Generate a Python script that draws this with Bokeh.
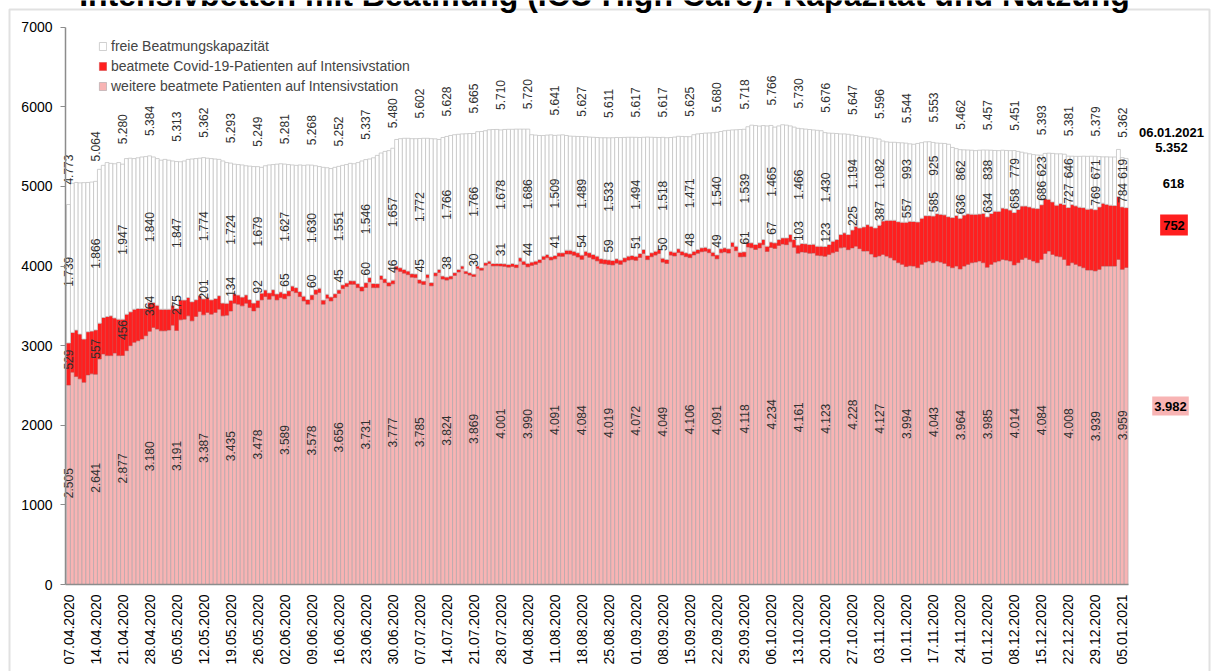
from math import pi
import numpy as np
from bokeh.plotting import figure
from bokeh.models import (ColumnDataSource, FixedTicker, Legend, LegendItem,
                          Label, Range1d, BoxAnnotation)
from bokeh.core.properties import value
from bokeh.embed import file_html
from bokeh.resources import INLINE

title_text = "Intensivbetten mit Beatmung (ICU High Care): Kapazität und Nutzung"
series_names = ["freie Beatmungskapazität",
                "beatmete Covid-19-Patienten auf Intensivstation",
                "weitere beatmete Patienten auf Intensivstation"]

tick_dates = ["07.04.2020", "14.04.2020", "21.04.2020", "28.04.2020", "05.05.2020",
              "12.05.2020", "19.05.2020", "26.05.2020", "02.06.2020", "09.06.2020",
              "16.06.2020", "23.06.2020", "30.06.2020", "07.07.2020", "14.07.2020",
              "21.07.2020", "28.07.2020", "04.08.2020", "11.08.2020", "18.08.2020",
              "25.08.2020", "01.09.2020", "08.09.2020", "15.09.2020", "22.09.2020",
              "29.09.2020", "06.10.2020", "13.10.2020", "20.10.2020", "27.10.2020",
              "03.11.2020", "10.11.2020", "17.11.2020", "24.11.2020", "01.12.2020",
              "08.12.2020", "15.12.2020", "22.12.2020", "29.12.2020", "05.01.2021"]
last_date = "06.01.2021"

# daily total ventilation capacity (top of white bars), 07.04.2020 .. 06.01.2021
total_capacity = [
    4773, 5040, 5050, 5045, 5048, 5050, 5055,
    5064, 5215, 5265, 5300, 5290, 5285, 5300,
    5280, 5350, 5355, 5350, 5360, 5370, 5375,
    5384, 5370, 5350, 5330, 5340, 5330, 5320,
    5313, 5310, 5320, 5340, 5345, 5350, 5355,
    5362, 5355, 5350, 5345, 5340, 5320, 5300,
    5293, 5280, 5275, 5270, 5260, 5255, 5250,
    5249, 5240, 5260, 5270, 5275, 5280, 5285,
    5281, 5275, 5270, 5265, 5270, 5265, 5270,
    5268, 5260, 5250, 5240, 5235, 5225, 5240,
    5252, 5265, 5275, 5290, 5285, 5300, 5320,
    5337, 5345, 5360, 5390, 5420, 5440, 5450,
    5480, 5590, 5600, 5605, 5605, 5600, 5600,
    5602, 5605, 5605, 5600, 5598, 5590, 5615,
    5628, 5640, 5650, 5655, 5660, 5662, 5665,
    5665, 5688, 5690, 5700, 5712, 5715, 5716,
    5710, 5716, 5718, 5718, 5720, 5720, 5720,
    5720, 5650, 5645, 5640, 5640, 5645, 5648,
    5641, 5645, 5648, 5640, 5632, 5630, 5628,
    5627, 5625, 5620, 5618, 5615, 5612, 5612,
    5611, 5612, 5615, 5614, 5616, 5618, 5618,
    5617, 5615, 5618, 5620, 5618, 5616, 5615,
    5617, 5612, 5615, 5620, 5630, 5628, 5626,
    5625, 5650, 5660, 5665, 5670, 5672, 5675,
    5680, 5690, 5700, 5705, 5710, 5712, 5715,
    5718, 5750, 5770, 5765, 5758, 5765, 5760,
    5766, 5745, 5760, 5775, 5770, 5760, 5745,
    5730, 5725, 5720, 5715, 5710, 5705, 5700,
    5676, 5670, 5668, 5665, 5660, 5660, 5655,
    5647, 5640, 5630, 5625, 5620, 5612, 5605,
    5596, 5570, 5560, 5555, 5555, 5550, 5548,
    5544, 5535, 5530, 5540, 5550, 5560, 5562,
    5553, 5545, 5542, 5540, 5530, 5490, 5475,
    5462, 5460, 5458, 5455, 5450, 5455, 5458,
    5457, 5455, 5452, 5450, 5455, 5452, 5450,
    5451, 5440, 5430, 5420, 5410, 5400, 5395,
    5393, 5415, 5418, 5415, 5410, 5410, 5405,
    5381, 5380, 5378, 5378, 5380, 5378, 5380,
    5379, 5375, 5372, 5372, 5370, 5370, 5465,
    5362, 5352]

# daily ventilated Covid-19 patients (red)
covid = [
    529, 500, 584, 563, 543, 542, 537,
    557, 450, 458, 492, 500, 440, 458,
    456, 459, 425, 416, 405, 384, 342,
    364, 313, 300, 271, 271, 262, 250,
    275, 250, 240, 230, 240, 210, 200,
    201, 190, 180, 175, 170, 160, 150,
    134, 120, 115, 110, 105, 100, 98,
    92, 85, 82, 80, 78, 75, 70,
    65, 65, 62, 62, 62, 60, 60,
    60, 58, 55, 52, 50, 50, 48,
    45, 47, 45, 45, 44, 50, 55,
    60, 55, 52, 50, 48, 48, 47,
    46, 46, 47, 48, 45, 44, 45,
    45, 44, 42, 40, 40, 39, 38,
    38, 36, 35, 33, 32, 31, 30,
    30, 30, 31, 32, 30, 31, 30,
    31, 33, 35, 38, 40, 42, 43,
    44, 42, 41, 40, 42, 41, 40,
    41, 43, 45, 48, 50, 52, 53,
    54, 55, 57, 58, 60, 59, 58,
    59, 57, 55, 54, 52, 51, 52,
    51, 50, 51, 52, 50, 49, 50,
    50, 51, 49, 48, 47, 48, 49,
    48, 47, 48, 49, 50, 49, 48,
    49, 50, 52, 54, 55, 57, 59,
    61, 60, 62, 63, 64, 65, 66,
    67, 70, 74, 78, 85, 92, 98,
    103, 105, 108, 110, 112, 115, 120,
    123, 125, 146, 150, 167, 180, 190,
    225, 250, 260, 304, 330, 350, 365,
    387, 420, 450, 470, 500, 515, 530,
    557, 560, 560, 575, 580, 583, 570,
    585, 595, 600, 610, 620, 630, 635,
    636, 640, 635, 610, 600, 590, 620,
    634, 640, 640, 625, 645, 645, 640,
    658, 670, 670, 650, 660, 665, 680,
    686, 690, 650, 660, 640, 670, 690,
    727, 730, 735, 740, 755, 765, 770,
    769, 785, 790, 775, 765, 760, 790,
    784, 752]

# daily other ventilated ICU patients (pink)
other = [
    2505, 2667, 2612, 2583, 2540, 2633, 2646,
    2641, 2833, 2896, 2875, 2875, 2908, 2875,
    2877, 2937, 3000, 3042, 3062, 3083, 3125,
    3180, 3229, 3208, 3187, 3187, 3196, 3258,
    3191, 3325, 3333, 3375, 3312, 3367, 3429,
    3387, 3417, 3396, 3417, 3458, 3375, 3383,
    3435, 3533, 3521, 3500, 3533, 3479, 3437,
    3478, 3575, 3617, 3583, 3625, 3575, 3604,
    3589, 3625, 3687, 3667, 3617, 3562, 3521,
    3578, 3646, 3667, 3521, 3596, 3562, 3604,
    3656, 3717, 3742, 3771, 3771, 3729, 3687,
    3731, 3800, 3729, 3729, 3833, 3792, 3750,
    3777, 3954, 3932, 3910, 3892, 3860, 3855,
    3785, 3768, 3854, 3752, 3877, 3919, 3837,
    3824, 3839, 3882, 3925, 3968, 3906, 3887,
    3869, 3970, 3948, 4010, 4032, 4002, 4003,
    4001, 3996, 3986, 3995, 3981, 4062, 4019,
    3990, 4008, 4021, 4043, 4083, 4105, 4077,
    4091, 4124, 4122, 4152, 4150, 4135, 4114,
    4084, 4132, 4110, 4088, 4065, 4033, 4027,
    4019, 4014, 4037, 4021, 4052, 4074, 4081,
    4072, 4108, 4157, 4081, 4117, 4138, 4158,
    4049, 4032, 4138, 4127, 4170, 4139, 4118,
    4106, 4140, 4160, 4180, 4187, 4168, 4127,
    4091, 4167, 4177, 4163, 4245, 4193, 4116,
    4118, 4240, 4230, 4208, 4228, 4268, 4184,
    4234, 4222, 4259, 4276, 4269, 4304, 4235,
    4161, 4178, 4172, 4161, 4163, 4135, 4130,
    4123, 4146, 4167, 4183, 4229, 4237, 4206,
    4228, 4250, 4219, 4188, 4190, 4150, 4114,
    4127, 4146, 4125, 4104, 4075, 4042, 4021,
    3994, 4003, 4000, 3979, 4021, 4050, 4063,
    4043, 4063, 4050, 4033, 4000, 3979, 4000,
    3964, 4000, 4021, 4042, 4050, 4063, 4042,
    3985, 4021, 4050, 4063, 4083, 4075, 4063,
    4014, 4042, 4083, 4104, 4083, 4063, 4042,
    4084, 4158, 4188, 4146, 4125, 4117, 4083,
    4008, 4042, 4021, 4000, 3979, 3950, 3950,
    3939, 3958, 4000, 4000, 4000, 4000, 4083,
    3959, 3982]

# ---------------------------------------------------------------------------
FONT = "Liberation Sans"
RED = "#ff1f1f"
PINK = "#f8b4b4"
W, H = 1213, 671
X0, DX = 68.0, 3.86          # pixel of day 0, pixels per day
Y0, DY = 584.0, 0.07961      # pixel of value 0, pixels per unit


def X(px):
    return (px - X0) / DX


def Y(py):
    return (Y0 - py) / DY


tot = np.array(total_capacity, dtype=float)
cov = np.array(covid, dtype=float)
oth = np.array(other, dtype=float)
occ = oth + cov
free = tot - occ
days = np.arange(len(tot))

src = ColumnDataSource(dict(x=days, oth=oth, occ=occ, tot=tot))


def de(v):
    return f"{int(round(v)):,}".replace(",", ".")


p = figure(width=W, height=H, x_range=Range1d(X(0), X(W)),
           y_range=Range1d(Y(H), Y(0)), output_backend="svg",
           toolbar_location=None, min_border=0, min_border_left=0,
           min_border_right=0, min_border_top=0, min_border_bottom=0,
           background_fill_color="white", border_fill_color="white")

# outer frame of the chart
p.add_layout(BoxAnnotation(left=X(9), right=X(1209), top=Y(9), bottom=Y(H + 20),
                           fill_alpha=0, line_color="#9c9c9c", line_width=2,
                           level="underlay"))

r_oth = p.vbar(x="x", bottom=0, top="oth", width=1.0, source=src,
               fill_color=PINK, line_color="#a9a4a8", line_width=0.6)
r_cov = p.vbar(x="x", bottom="oth", top="occ", width=1.0, source=src,
               fill_color=RED, line_color="#d04040", line_width=0.5)
r_free = p.vbar(x="x", bottom="occ", top="tot", width=1.0, source=src,
                fill_color="white", line_color="#c4c4c4", line_width=0.8)

# weekly value labels
wk = days[::7]
k = np.arange(len(wk))
w_tot, w_cov, w_oth, w_occ, w_free = tot[wk], cov[wk], oth[wk], occ[wk], free[wk]

free_off = np.where(w_free < 1000, 170, np.where(w_free < 1300, 105, 25))
lab_tot = ColumnDataSource(dict(x=wk, y=w_tot + 250, t=[de(v) for v in w_tot]))
lab_free = ColumnDataSource(dict(x=wk, y=w_occ + w_free / 2 + free_off,
                                 t=[de(v) for v in w_free]))
cov_y = np.where(k < 10,
                 np.maximum(w_oth + w_cov / 2, w_occ + 170 - np.maximum(0, w_cov - 150)),
                 w_occ + 175)
lab_cov = ColumnDataSource(dict(x=wk, y=cov_y, t=[de(v) for v in w_cov]))
lab_oth = ColumnDataSource(dict(x=wk, y=w_oth / 2 + 20, t=[de(v) for v in w_oth]))

for s, align in ((lab_tot, "left"), (lab_free, "center"), (lab_cov, "center"),
                 (lab_oth, "center")):
    p.text(x="x", y="y", text="t", source=s, angle=pi / 2, text_align=align,
           text_baseline="middle", text_font=value(FONT), text_font_size="12px",
           text_color="#303030")

# axes (drawn at their places inside the full-canvas frame)
p.xgrid.visible = False
p.ygrid.visible = False
p.outline_line_color = None

xa = p.xaxis[0]
xa.fixed_location = 0
xa.bounds = (X(65), X(1128))
xa.ticker = FixedTicker(ticks=[int(d) for d in wk])
xa.major_label_overrides = {int(d): s for d, s in zip(wk, tick_dates)}
xa.major_label_orientation = pi / 2
xa.major_tick_out = 0
xa.major_tick_in = 0
xa.minor_tick_line_color = None
xa.major_label_standoff = 10
xa.axis_line_color = "#8c8c8c"
xa.axis_line_width = 1.5
xa.major_label_text_font = FONT
xa.major_label_text_font_size = "14px"
xa.major_label_text_color = "black"

ya = p.yaxis[0]
ya.fixed_location = X(65)
ya.bounds = (0, 7000)
ya.ticker = FixedTicker(ticks=list(range(0, 7001, 1000)))
ya.major_tick_out = 5
ya.major_tick_in = 0
ya.minor_tick_line_color = None
ya.major_label_standoff = 8
ya.axis_line_color = "#8c8c8c"
ya.axis_line_width = 1.5
ya.major_tick_line_color = "#8c8c8c"
ya.major_label_text_font = FONT
ya.major_label_text_font_size = "14px"
ya.major_label_text_color = "black"

legend = Legend(items=[LegendItem(label=series_names[0], renderers=[r_free]),
                       LegendItem(label=series_names[1], renderers=[r_cov]),
                       LegendItem(label=series_names[2], renderers=[r_oth])],
                location=(98, H - 96), padding=0, margin=0, spacing=0,
                label_height=20, glyph_height=10, glyph_width=9,
                label_standoff=4, label_text_font=FONT,
                label_text_font_size="14px", border_line_color=None,
                background_fill_alpha=0)
p.add_layout(legend)

# title (cut at the top edge, as in the original)
p.add_layout(Label(x=X(604), y=Y(-6), text=title_text, text_align="center",
                   text_baseline="alphabetic", text_font=FONT,
                   text_font_size="32px", text_font_style="bold",
                   text_color="black"))

# values of the last day at the right
last = len(tot) - 1
common = dict(text_align="center", text_baseline="middle", text_font=FONT,
              text_font_size="13px", text_font_style="bold", text_color="black")
p.add_layout(Label(x=X(1171), y=Y(132), text=last_date, **common))
p.add_layout(Label(x=X(1171), y=Y(147), text=de(tot[last]), **common))
p.add_layout(Label(x=X(1173), y=Y(183), text=de(free[last]), **common))
p.add_layout(Label(x=X(1173.5), y=Y(224.5), text=de(cov[last]),
                   background_fill_color=RED, padding=(3, 6), **common))
p.add_layout(Label(x=X(1170), y=Y(405.5), text=de(oth[last]),
                   background_fill_color=PINK, padding=(2, 5), **common))

open("out.html", "w").write(file_html(p, INLINE))
